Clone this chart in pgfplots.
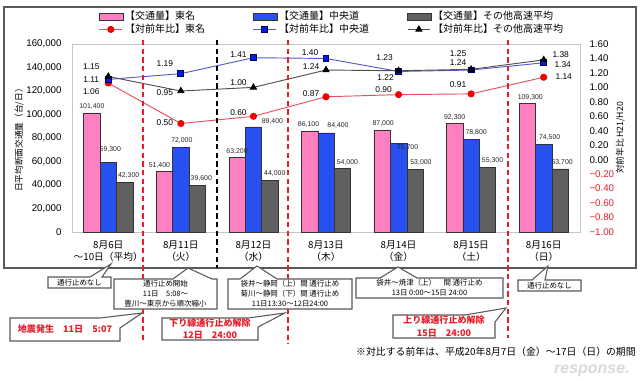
\documentclass[border=0pt]{standalone}
\usepackage{pgfplots}
\pgfplotsset{compat=1.18}
\usepackage{pgfplotstable}
\usepackage{fontspec}
\setmainfont{Liberation Sans}
\newfontfamily\cjk{Noto Sans CJK JP}

\definecolor{pinkbar}{RGB}{255,128,192}
\definecolor{bluebar}{RGB}{40,80,240}
\definecolor{graybar}{RGB}{96,96,96}
\definecolor{redline}{RGB}{230,80,90}
\definecolor{redmark}{RGB}{240,0,0}
\definecolor{blueline}{RGB}{90,90,200}
\definecolor{bluemark}{RGB}{0,30,220}
\definecolor{blackline}{RGB}{80,80,80}
\definecolor{redtxt}{RGB}{230,30,40}
\definecolor{boxline}{RGB}{90,90,90}

\pgfkeys{/pgf/number format/.cd, fixed, 1000 sep={,}, assume math mode=true}

% bars: x value dx dy (label offsets in px)
\pgfplotstableread{
x y dx dy
0 101400 0 0
1 51400 -5 0
2 63200 0 0
3 86100 -1 0
4 87000 1 0
5 92300 0 0
6 109300 3 0
}\tomeiV
\pgfplotstableread{
x y dx dy
0 59300 2 6
1 72000 1 0
2 89400 19 -1
3 84400 12 1
4 75700 9 -11
5 78800 5 0
6 74500 6 0
}\chuoV
\pgfplotstableread{
x y dx dy
0 42300 4 0
1 39600 4 0
2 44000 5 0
3 54000 5 0
4 53000 6 1
5 55300 5 0
6 53700 2 0
}\otherV
% ratios
\pgfplotstableread{
x y dx dy
0 1.06 -17 -9
1 0.50 -16 1
2 0.60 -15 4
3 0.87 -15 3.5
4 0.90 -15 5
5 0.91 -13 9
6 1.14 20 1
}\tomeiR
\pgfplotstableread{
x y dx dy
0 1.11 -17 0
1 1.19 -16 10.5
2 1.41 -15 3
3 1.40 -16 6
4 1.22 -13 -5.6
5 1.24 -13 7
6 1.34 19 -2
}\chuoR
\pgfplotstableread{
x y dx dy
0 1.15 -17 10
1 0.95 -16 -2
2 1.00 -15 5
3 1.24 -15 3
4 1.23 -14 13
5 1.25 -13 16
6 1.38 17 5
}\otherR

\pgfplotsset{
  barleg/.style={legend image code/.code={\draw[##1] (0pt,-2.6pt) rectangle (18pt,2.6pt);}},
  barlab/.style={
    draw=none, mark=none,
    visualization depends on={\thisrow{dx} \as \dx},
    visualization depends on={\thisrow{dy} \as \dy},
    nodes near coords={\pgfmathprintnumber[fixed,precision=0,1000 sep={,}]{\pgfplotspointmeta}},
    nodes near coords style={font=\fontsize{5.2}{6}\selectfont, text=black!85, inner sep=1pt, anchor=south,
      xshift={\dx*0.75pt}, yshift={\dy*0.75pt+1.5pt}}},
  linelab/.style={
    visualization depends on={\thisrow{dx} \as \dx},
    visualization depends on={\thisrow{dy} \as \dy},
    nodes near coords={\pgfmathprintnumber[fixed,fixed zerofill,precision=2]{\pgfplotspointmeta}},
    nodes near coords style={font=\fontsize{6.3}{7}\selectfont, text=black, inner sep=0pt, anchor=center,
      xshift={\dx*0.75pt}, yshift={\dy*0.75pt}}},
}

\begin{document}
\begin{tikzpicture}
\path[use as bounding box] (0,0) rectangle (480pt,-285.75pt);
\fill[white] (0,0) rectangle (480pt,-285.75pt);
\begin{scope}[x=0.75pt,y=-0.75pt]
\draw[boxline, line width=0.9pt] (4,7) rectangle (636,268);
\end{scope}

\begin{axis}[
  at={(54pt,-33pt)}, anchor=north west,
  scale only axis, width=381pt, height=141pt,
  xmin=-0.5, xmax=6.5, ymin=0, ymax=160000,
  xtick={0,...,6},
  xticklabels={{8月6日\\～10日（平均）},{8月11日\\（火）},{8月12日\\（水）},{8月13日\\（木）},{8月14日\\（金）},{8月15日\\（土）},{8月16日\\（日）}},
  xticklabel style={align=center, font=\cjk\fontsize{7.3}{9}\selectfont, yshift=-3pt},
  ytick={0,20000,...,160000},
  scaled y ticks=false,
  yticklabel={\pgfmathprintnumber[fixed,precision=0,1000 sep={,}]{\tick}},
  major tick length=0pt,
  yticklabel style={font=\fontsize{7.3}{8}\selectfont, xshift=-4.3pt},
  axis line style={gray!45},
  ylabel={日平均断面交通量（台/日）},
  ylabel style={font=\cjk\fontsize{6.5}{7}\selectfont, at={(axis description cs:-0.104,0.5)}, anchor=center},
  clip=false,
]
\addplot[ybar, bar width=12.3pt, bar shift=-12.3pt, fill=pinkbar, draw=black!80, line width=0.4pt] table[x=x,y=y]{\tomeiV};
\addplot[ybar, bar width=12.3pt, bar shift=0pt, fill=bluebar, draw=black!80, line width=0.4pt] table[x=x,y=y]{\chuoV};
\addplot[ybar, bar width=12.3pt, bar shift=12.3pt, fill=graybar, draw=black!80, line width=0.4pt] table[x=x,y=y]{\otherV};
% value labels above the bars
\addplot[barlab] table[x expr=\thisrow{x}-0.226, y=y]{\tomeiV};
\addplot[barlab] table[x=x, y=y]{\chuoV};
\addplot[barlab] table[x expr=\thisrow{x}+0.226, y=y]{\otherV};
\end{axis}

\begin{axis}[
  at={(54pt,-33pt)}, anchor=north west,
  scale only axis, width=381pt, height=141pt,
  xmin=-0.5, xmax=6.5, ymin=-1, ymax=1.6,
  axis y line*=right, hide x axis,
  axis line style={gray!45},
  major tick length=0pt,
  ytick={-1,-0.8,-0.6,-0.4,-0.2,0,0.2,0.4,0.6,0.8,1,1.2,1.4,1.6},
  yticklabels={{\color{redtxt}−1.00},{\color{redtxt}−0.80},{\color{redtxt}−0.60},{\color{redtxt}−0.40},{\color{redtxt}−0.20},0.00,0.20,0.40,0.60,0.80,1.00,1.20,1.40,1.60},
  yticklabel style={font=\fontsize{7.3}{8}\selectfont, xshift=3.6pt},
  ylabel={対前年比\ H21/H20},
  ylabel style={font=\cjk\fontsize{6.5}{7}\selectfont, at={(axis description cs:1.079,0.5)}, anchor=center},
  clip=false,
  legend columns=3,
  legend style={draw=none, fill=none, inner sep=0pt, at={(0.0525,1.18)}, anchor=north west,
    font=\cjk\fontsize{7.5}{9}\selectfont,
    nodes={inner sep=1pt, text height=6pt, text depth=1.5pt},
    column sep=0pt, row sep=0pt},
  legend cell align=left,
]
\addlegendimage{barleg, fill=pinkbar, draw=black!80}
\addlegendentry{\makebox[95pt][l]{【交通量】東名}}
\addlegendimage{barleg, fill=bluebar, draw=black!80}
\addlegendentry{\makebox[95pt][l]{【交通量】中央道}}
\addlegendimage{barleg, fill=graybar, draw=black!80}
\addlegendentry{\makebox[100pt][l]{【交通量】その他高速平均}}

\addplot[color=redline, line width=0.7pt, mark=*, mark size=2.3pt, mark options={fill=redmark, draw=redmark}, linelab] table[x=x,y=y]{\tomeiR};
\addlegendentry{\makebox[95pt][l]{【対前年比】東名}}
\addplot[color=blueline, line width=0.7pt, mark=square*, mark size=2.2pt, mark options={fill=bluemark, draw=blue!40!black}, linelab] table[x=x,y=y]{\chuoR};
\addlegendentry{\makebox[95pt][l]{【対前年比】中央道}}
\addplot[color=blackline, line width=0.7pt, mark=triangle*, mark size=2.6pt, mark options={fill=black, draw=black}, linelab] table[x=x,y=y]{\otherR};
\addlegendentry{\makebox[100pt][l]{【対前年比】その他高速平均}}
\end{axis}

\begin{scope}[x=0.75pt,y=-0.75pt]
% separators
\draw[redtxt, line width=1.1pt, dash pattern=on 4pt off 2.5pt] (143,40) -- (143,342);
\draw[black, line width=1.1pt, dash pattern=on 4pt off 2.5pt] (217,40) -- (217,268);
\draw[redtxt, line width=1.1pt, dash pattern=on 4pt off 2.5pt] (288,40) -- (288,344);
\draw[redtxt, line width=1.1pt, dash pattern=on 4pt off 2.5pt] (508,40) -- (508,338);
% callouts
\tikzset{co/.style={draw=boxline, fill=white, line width=0.8pt, line join=miter}}
\tikzset{ct/.style={font=\cjk\fontsize{5.6}{7.5}\selectfont, align=center, inner sep=0pt}}
\tikzset{cr/.style={font=\cjk\bfseries\fontsize{6.8}{9.5}\selectfont, text=redtxt, align=center, inner sep=0pt}}
% box1
\path[co] (48,277) -- (90,277) -- (111,264) -- (102,277) -- (111,277) -- (111,288) -- (48,288) -- cycle;
\node[ct] at (79.5,282.5) {通行止めなし};
% box2
\path[co] (114,279) -- (173,279) -- (188,268) -- (212,279) -- (217,279) -- (217,309) -- (114,309) -- cycle;
\node[ct] at (165.5,294) {通行止め開始\\11日　5:08～\\豊川～東京から順次縮小};
% box3
\path[co] (228,279) -- (240,279) -- (257,266) -- (277,279) -- (352,279) -- (352,309) -- (228,309) -- cycle;
\node[ct] at (290,294) {袋井～静岡（上）間 通行止め\\菊川～静岡（下）間 通行止め\\11日13:30～12日24:00};
% box4
\path[co] (10,318) -- (100,318) -- (142,313) -- (120,328) -- (120,341) -- (10,341) -- cycle;
\node[cr] at (65,329.5) {地震発生　11日　5:07};
% box5
\path[co] (162,318) -- (248,318) -- (285,313) -- (258,327) -- (258,340) -- (162,340) -- cycle;
\node[cr] at (210,329) {下り線通行止め解除\\12日　24:00};
% box6
\path[co] (356,278) -- (380,278) -- (398,267) -- (417,278) -- (503,278) -- (503,298) -- (356,298) -- cycle;
\node[ct] at (429.5,288) {袋井～焼津（上）　間 通行止め\\13日 0:00～15日 24:00};
% box7
\path[co] (393,315) -- (465,315) -- (506,308) -- (495,322) -- (495,338) -- (393,338) -- cycle;
\node[cr] at (444,326.5) {上り線通行止め解除\\15日　24:00};
% box8
\path[co] (518,280) -- (532,280) -- (548,266) -- (545,280) -- (581,280) -- (581,291) -- (518,291) -- cycle;
\node[ct] at (549.5,285.5) {通行止めなし};
% footnote
\node[font=\cjk\fontsize{7.4}{8}\selectfont, anchor=east, inner sep=0pt] at (636,352) {※対比する前年は、平成20年8月7日（金）～17日（日）の期間};
\node[font=\bfseries\itshape\fontsize{12}{13}\selectfont, text=gray!30, anchor=east, inner sep=0pt] at (630,371) {response.};
\end{scope}
\end{tikzpicture}
\end{document}
